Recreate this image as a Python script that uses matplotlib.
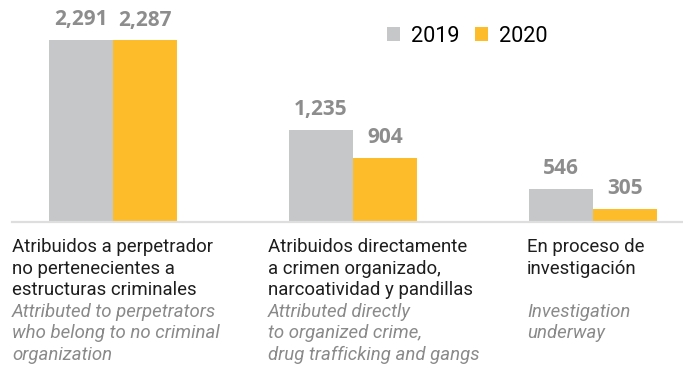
import matplotlib
matplotlib.use("Agg")
import matplotlib.pyplot as plt
from matplotlib import font_manager
from matplotlib.lines import Line2D
import numpy as np

# ---- data ----
years = ["2019", "2020"]
values_2019 = [2291, 1235, 546]
values_2020 = [2287, 904, 305]
labels_es = [
    ["Atribuidos a perpetrador", "no pertenecientes a", "estructuras criminales"],
    ["Atribuidos directamente", "a crimen organizado,", "narcoatividad y pandillas"],
    ["En proceso de", "investigación"],
]
labels_en = [
    ["Attributed to perpetrators", "who belong to no criminal", "organization"],
    ["Attributed directly", "to organized crime,", "drug trafficking and gangs"],
    ["Investigation", "underway"],
]

GRAY = "#c6c7c8"
ORANGE = "#fdbd2a"
VALUE_COLOR = "#8d8d8d"
TEXT_COLOR = "#1e1e1e"
SUB_COLOR = "#8a8a8a"

CAT_FAMILY, CAT_SIZE = "Roboto", 13.4

W, H = 683, 370
fig = plt.figure(figsize=(W / 100, H / 100), dpi=100)

base_px = 220.5
ax = fig.add_axes([0, 1 - base_px / H, 1, base_px / H])
ax.set_xlim(-113 / 240, (W - 113) / 240)
ax.set_ylim(170, 170 + base_px / 0.0851)
ax.axis("off")

x = np.arange(len(values_2019))
w = 64 / 240
b1 = ax.bar(x - w / 2, values_2019, width=w, color=GRAY, label=years[0])
b2 = ax.bar(x + w / 2, values_2020, width=w, color=ORANGE, label=years[1])

for bars, vals in ((b1, values_2019), (b2, values_2020)):
    for rect, v in zip(bars, vals):
        ax.annotate(f"{v:,}", (rect.get_x() + rect.get_width() / 2, v),
                    xytext=(0, 10.5), textcoords="offset points",
                    ha="center", va="baseline", fontsize=15,
                    fontweight="bold", family="Open Sans", color=VALUE_COLOR)

# baseline rule
fig.add_artist(Line2D([12 / W, 1], [1 - 222 / H, 1 - 222 / H],
                      color="#dedede", lw=1.6, transform=fig.transFigure))

# legend
leg = ax.legend(handles=[b1, b2], loc="upper left", frameon=False, ncol=2,
                bbox_to_anchor=(387 / W, 1 - 25.5 / H),
                bbox_transform=fig.transFigure,
                prop=font_manager.FontProperties(family="Roboto", size=15.6),
                handlelength=0.6, handleheight=0.6, handletextpad=0.5,
                columnspacing=0.72, borderpad=0, borderaxespad=0)

# category captions
text_x = [12, 268, 527]
es_base = [252, 273.5, 295]
en_base = [317, 338, 359.5]
for tx, es, en in zip(text_x, labels_es, labels_en):
    for line, by in zip(es, es_base):
        fig.text(tx / W, 1 - by / H, line, ha="left", va="baseline",
                 family=CAT_FAMILY, fontsize=CAT_SIZE, color=TEXT_COLOR)
    for line, by in zip(en, en_base):
        fig.text(tx / W, 1 - by / H, line, ha="left", va="baseline",
                 family=CAT_FAMILY, fontsize=CAT_SIZE, style="italic",
                 color=SUB_COLOR)

fig.savefig("out.png", dpi=100)
